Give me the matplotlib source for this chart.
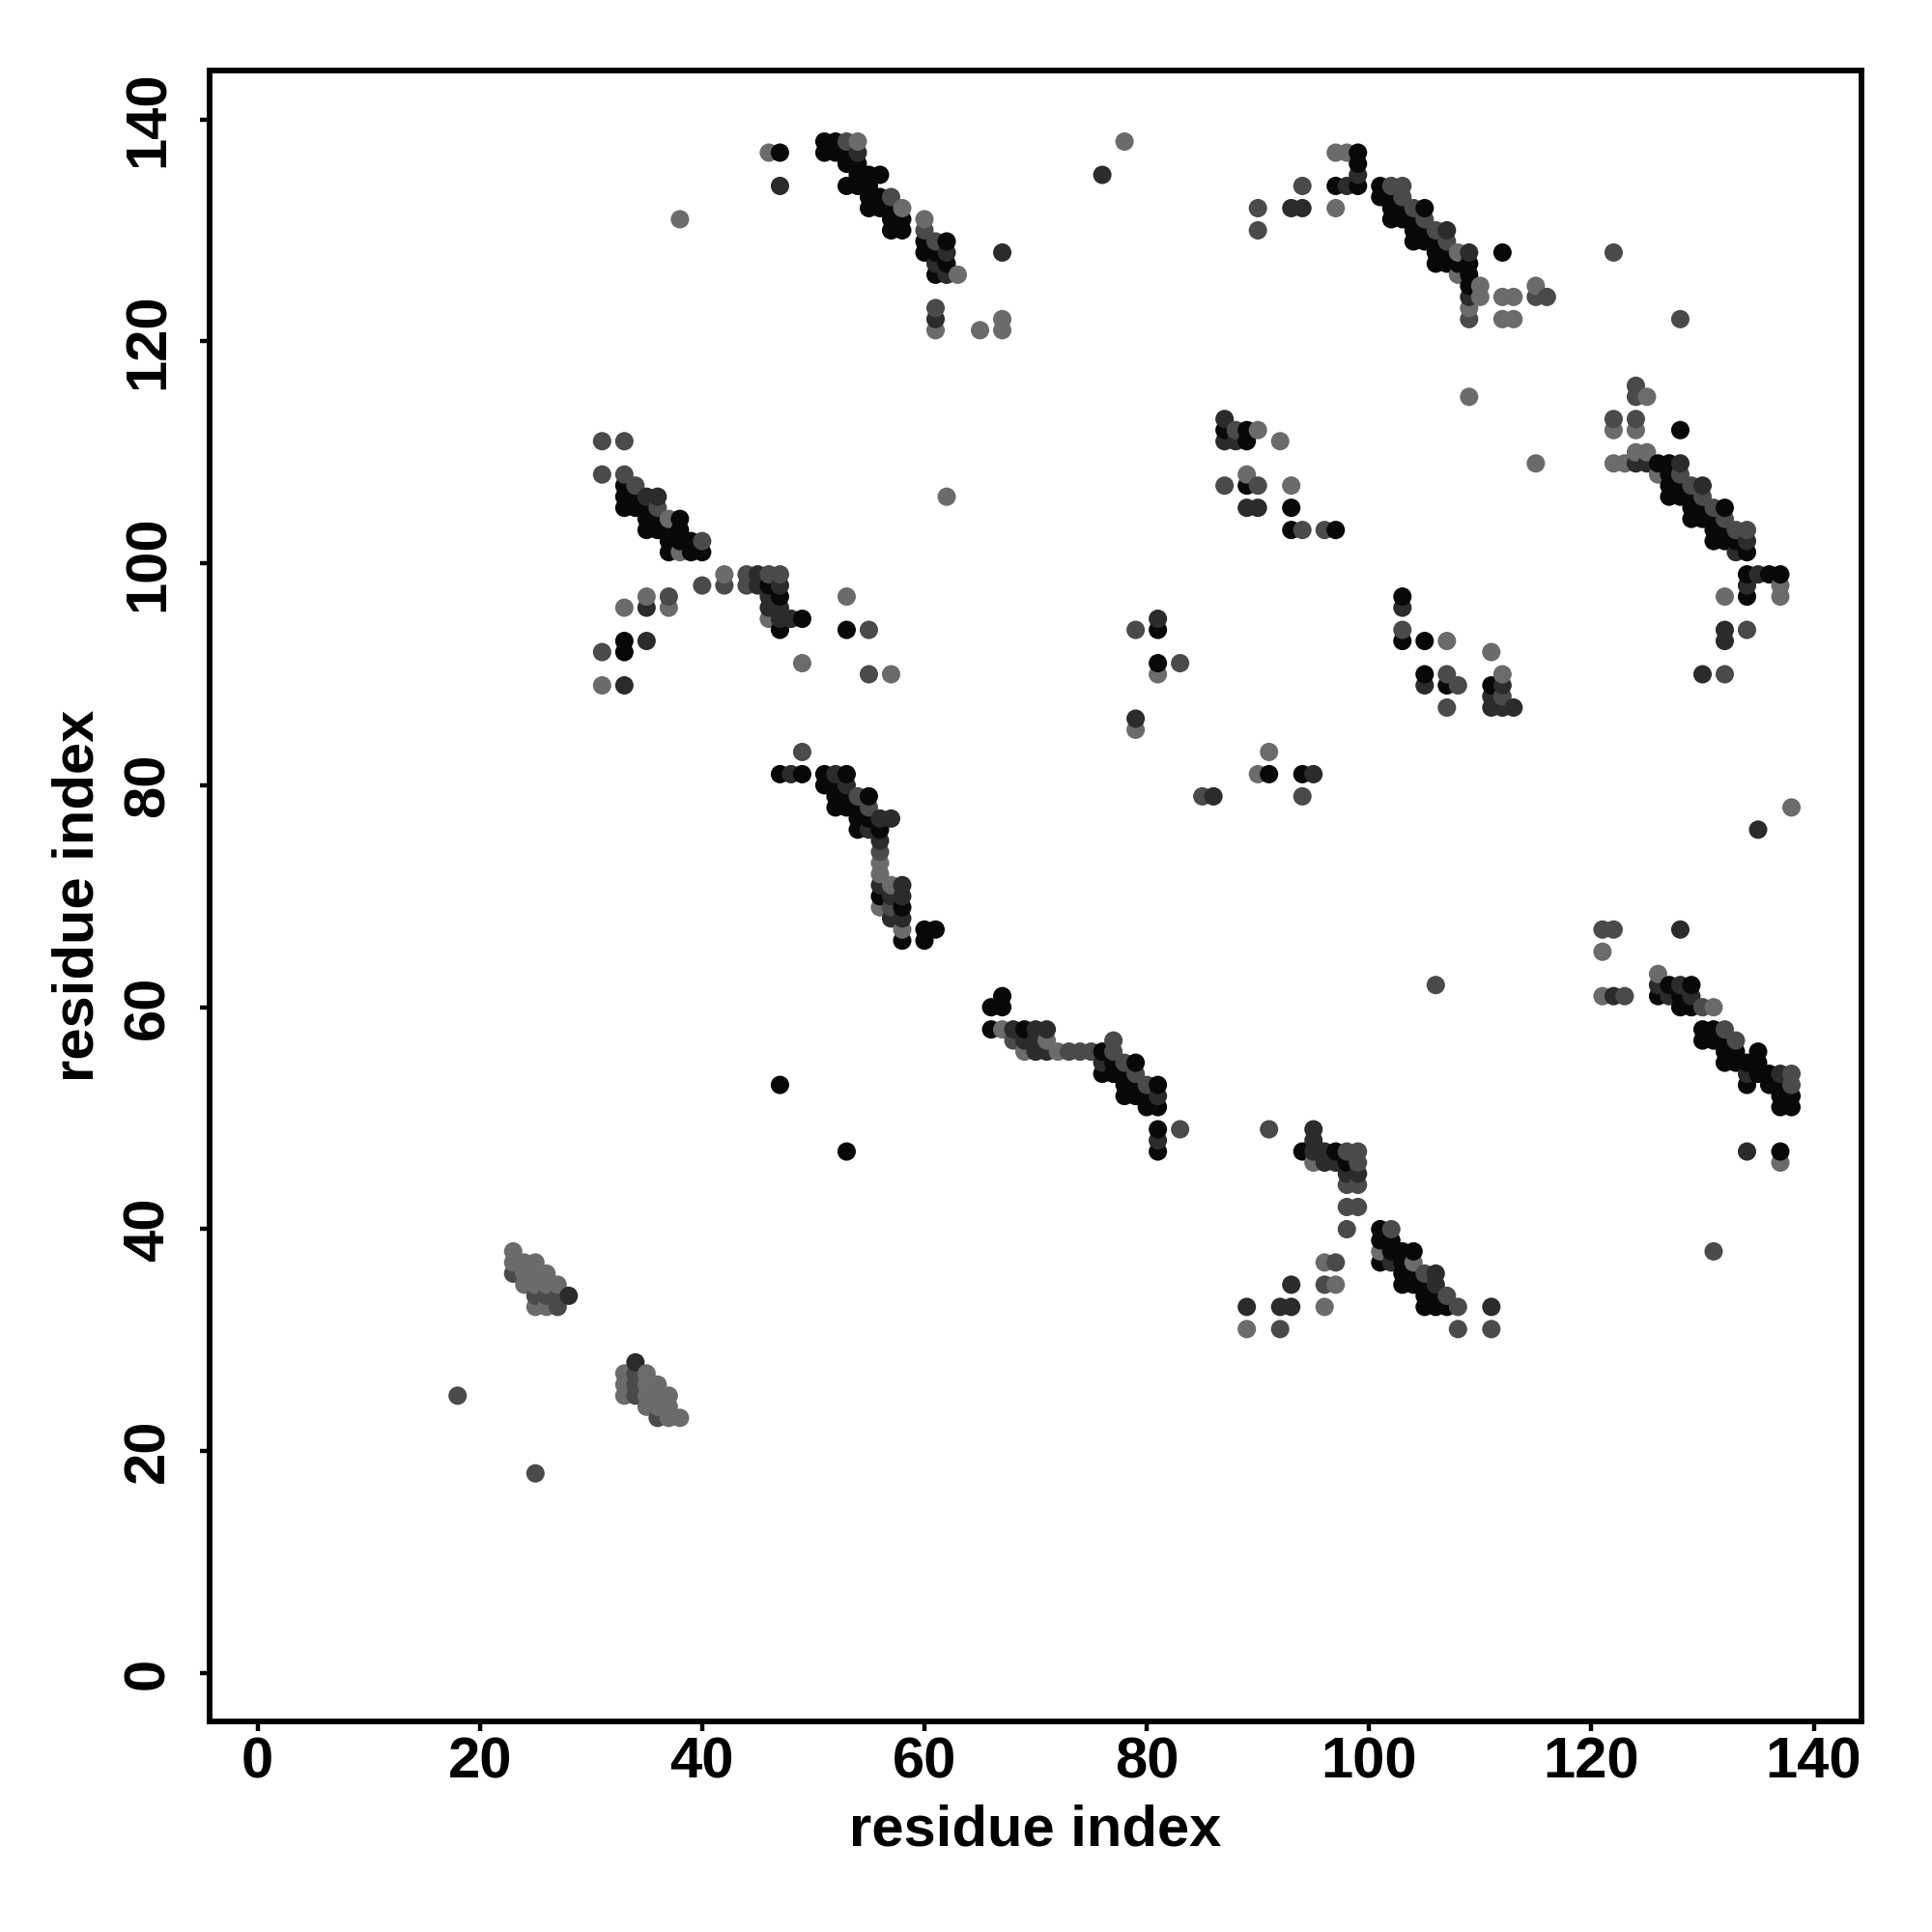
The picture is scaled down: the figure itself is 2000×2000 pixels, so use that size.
import numpy as np
import matplotlib
matplotlib.use("Agg")
import matplotlib.pyplot as plt

plt.rcParams['font.family'] = ['Liberation Sans', 'DejaVu Sans']

# contacts (residue i, residue j) grouped by how dark the dot is
black = [
    (47,137),(51,138),(52,138),(51,137),(52,137),(53,137),(53,136),(54,136),(54,135),(55,135),(56,135),
    (53,134),(54,134),(55,134),(55,133),(56,133),(55,132),(56,132),(57,132),(57,131),(58,131),(57,130),(58,130),
    (60,129),(62,129),(60,128),(61,128),(62,127),(61,126),
    (99,137),(99,136),(99,134),(97,134),(101,134),(102,133),(102,132),(103,132),(105,132),(102,131),(103,131),(104,131),
    (104,130),(105,130),(104,129),(105,129),(106,129),(106,128),(107,128),(112,128),(106,127),(107,127),(108,127),(109,127),
    (109,126),(109,125),(101,133),
    (33,107),(33,106),(34,106),(33,105),(34,105),(35,105),(35,104),(36,104),(38,104),(35,103),(36,103),(37,103),(38,103),
    (37,102),(38,102),(39,102),(37,101),(39,101),(40,101),(46,98),(47,97),(49,95),(47,94),(53,94),(33,93),(33,92),
    (128,112),(126,109),(127,109),(127,108),(127,107),(128,107),(127,106),(128,106),(129,106),(129,105),(130,105),(132,105),
    (129,104),(130,104),(131,104),(131,103),(132,103),(131,102),(132,102),(133,102),(134,101),(134,99),(136,99),(137,99),(134,97),
    (47,81),(49,81),(51,81),(53,81),(51,80),(52,80),(52,79),(53,79),(55,79),(52,78),(53,78),(54,78),(54,77),(55,77),(54,76),(56,76),
    (56,70),(58,69),(58,66),(60,67),(61,67),(60,66),
    (67,61),(66,60),(67,60),(66,58),(69,58),(76,56),(77,55),(79,55),(76,54),(77,54),(78,54),(78,53),(79,53),(81,53),
    (78,52),(79,52),(80,52),(80,51),(81,51),(81,49),(81,47),(47,53),(53,47),
    (127,62),(129,62),(126,61),(128,61),(128,60),(129,60),(130,58),(131,58),(130,57),(131,57),(132,57),(132,56),(133,56),(135,56),
    (132,55),(133,55),(134,55),(135,55),(135,54),(136,54),(134,53),(136,53),(137,53),(137,52),(138,52),(137,51),(138,51),(137,47),
    (94,47),(97,47),(98,46),(101,40),(101,39),(102,39),(102,38),(103,38),(104,38),(101,37),(103,37),(103,36),(104,36),
    (103,35),(104,35),(105,35),(105,34),(106,34),(105,33),(106,33),(107,33),
    (87,112),(89,112),(89,111),(89,107),(93,105),(93,103),(97,103),
    (103,97),(103,93),(105,93),(105,90),(107,89),(111,89),(81,94),(81,91),(91,81),(94,81),
]
dark = [
    (54,137),(62,128),(61,127),(62,126),(61,122),(67,128),(76,135),(47,134),
    (99,135),(98,134),(93,132),(94,132),(107,130),(109,128),(109,124),
    (36,106),(35,106),(45,99),(45,98),(47,98),(46,97),(46,96),(47,96),(47,95),(48,95),(35,96),(35,93),(33,89),
    (125,109),(124,109),(128,109),(130,107),(134,102),(133,101),(135,99),(134,98),(132,94),(132,93),(130,90),
    (48,81),(52,81),(53,80),(56,77),(57,77),(55,76),(56,75),(56,71),(58,71),(57,70),(58,70),(57,68),(58,68),
    (68,58),(70,58),(71,58),(69,57),(70,57),(70,56),(71,56),(76,55),(81,52),(81,48),
    (126,62),(128,62),(127,61),(129,61),(134,54),(137,54),(134,47),
    (96,47),(95,47),(96,46),(97,46),(98,45),(99,45),(95,49),(95,48),(102,37),(106,36),(106,35),(111,33),(89,33),(92,33),(93,33),(93,35),
    (87,113),(87,111),(88,111),(89,105),(90,105),(105,89),(112,89),(111,88),(111,87),(112,87),(113,87),
    (122,61),(128,67),(135,76),(81,95),(86,79),(95,81),(79,86),(103,96),(28,34),(34,28),
]
mid = [
    (53,138),(57,133),(60,130),(61,129),(61,123),(90,130),(94,134),(102,134),(103,134),(103,133),(104,132),(105,131),(106,130),
    (107,129),(109,122),(115,124),(116,124),(90,132),
    (31,111),(33,111),(31,108),(33,108),(34,107),(36,105),(40,102),(40,98),(42,98),(44,99),(44,98),(46,99),(47,99),(37,97),
    (55,94),(55,90),(31,92),
    (124,116),(124,115),(122,113),(124,113),(128,108),(129,107),(130,106),(131,105),(132,104),(133,103),(134,103),(122,128),(128,122),(134,94),(132,90),
    (49,83),(54,79),(55,78),(56,74),(57,69),
    (73,56),(74,56),(75,56),(77,57),(77,56),(78,55),(79,54),(80,53),(83,49),(68,57),
    (130,60),(132,58),(133,57),(138,54),(138,53),(121,67),(122,67),(123,61),
    (99,47),(98,47),(99,46),(98,44),(99,44),(98,42),(99,42),(98,40),(102,40),(105,36),(107,34),(108,33),(108,31),
    (97,37),(96,35),(92,31),(111,31),(91,49),
    (88,112),(87,107),(90,107),(94,103),(96,103),(103,94),(107,90),(108,89),(112,88),(107,87),
    (85,79),(94,79),(79,94),(83,91),(18,25),(25,18),(106,62),(131,38),
    (23,36),(25,34),(26,34),(27,34),(27,33),(34,27),(34,26),(34,25),(36,23),
]
light = [
    (54,138),(46,137),(58,132),(60,131),(63,126),(61,121),(65,121),(67,122),(67,121),(78,138),(38,131),
    (97,137),(98,137),(97,132),(108,128),(108,126),(110,125),(110,124),(112,124),(113,124),(115,125),(109,123),(112,122),(113,122),
    (109,115),(115,109),(62,106),
    (37,104),(38,101),(42,99),(35,97),(33,96),(37,96),(46,95),(53,97),(49,91),(57,90),(31,89),
    (125,115),(122,112),(124,112),(124,110),(125,110),(122,109),(123,109),(126,108),(137,98),(132,97),(137,97),
    (56,73),(56,72),(57,71),(56,69),(58,67),
    (67,58),(71,57),(69,56),(72,56),(126,63),(131,60),(121,65),(121,61),(138,78),(137,46),
    (95,46),(101,38),(104,37),(96,37),(97,35),(96,33),(89,31),
    (90,112),(92,111),(89,108),(93,107),(107,93),(111,92),(112,90),
    (90,81),(91,83),(81,90),(79,85),
    (23,38),(23,37),(24,37),(25,37),(24,36),(25,36),(26,36),(24,35),(25,35),(26,35),(27,35),(25,33),(26,33),
    (33,27),(35,27),(33,26),(35,26),(36,26),(33,25),(35,25),(36,25),(37,25),(35,24),(36,24),(37,24),(37,23),(38,23),
]

group_gray = [0.03, 0.17, 0.29, 0.42]

xs, ys, grays = [], [], []
for pts, g in zip([black, dark, mid, light], group_gray):
    for p in pts:
        xs.append(p[0])
        ys.append(p[1])
        grays.append(g)
xs = np.array(xs)
ys = np.array(ys)
grays = np.array(grays)

# points come out ordered by x then y, upper ones cover lower ones
order = np.lexsort((ys, xs))
colors = [(g, g, g) for g in grays[order]]

fig = plt.figure(figsize=(20, 20), dpi=100)
ax = fig.add_axes([217/2000, 1 - 1782/2000, 1710/2000, 1709/2000])
ax.scatter(xs[order], ys[order], s=188, c=colors, linewidths=0)

ax.set_xlim(-4.31, 144.3)
ax.set_ylim(-4.35, 144.4)
ticks = [0, 20, 40, 60, 80, 100, 120, 140]
ax.set_xticks(ticks)
ax.set_yticks(ticks)
ax.tick_params(length=7, width=3.2)
ax.tick_params(axis='x', pad=4)
ax.tick_params(axis='y', pad=18.5)
for lab in ax.get_xticklabels():
    lab.set_fontsize(43)
    lab.set_fontweight('bold')
for lab in ax.get_yticklabels():
    lab.set_fontsize(43)
    lab.set_fontweight('bold')
    lab.set_rotation(90)
    lab.set_va('center')
for s in ax.spines.values():
    s.set_linewidth(4.2)

ax.set_xlabel("residue index", fontsize=43, fontweight='bold', labelpad=11)
ax.set_ylabel("residue index", fontsize=43, fontweight='bold', labelpad=13)

fig.savefig("out.png", dpi=100)
